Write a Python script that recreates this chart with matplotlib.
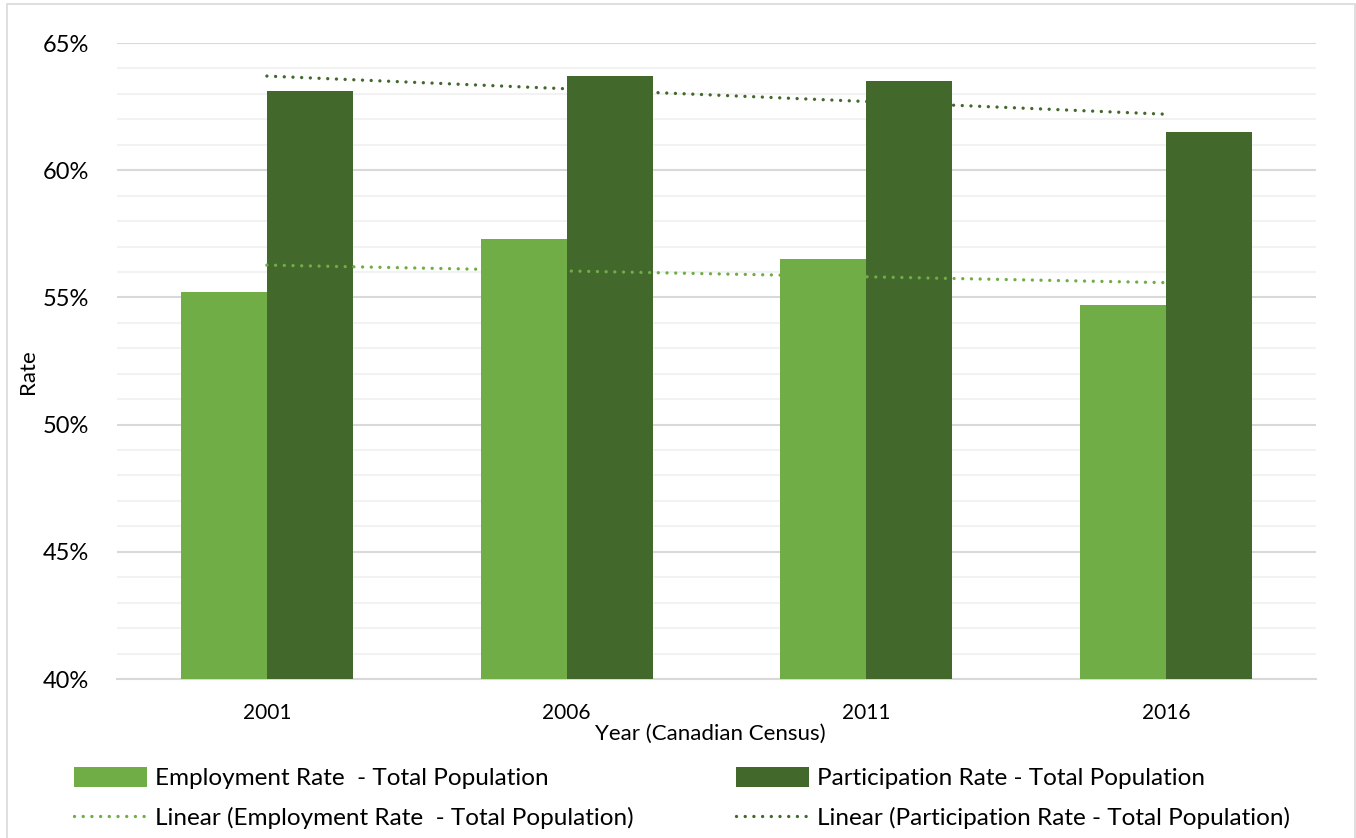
import matplotlib.pyplot as plt
import numpy as np
from matplotlib.patches import Rectangle

years = ['2001', '2006', '2011', '2016']
employment = [55.2, 57.3, 56.5, 54.7]
participation = [63.1, 63.7, 63.5, 61.5]

emp_label = 'Employment Rate  - Total Population'
part_label = 'Participation Rate - Total Population'

light_green = '#70AD47'
dark_green = '#43682B'

plt.rcParams['font.family'] = ['Lato', 'DejaVu Sans']

W, H = 1356, 838
fig = plt.figure(figsize=(W / 100, H / 100), dpi=100)

# plot area in pixel terms
left, right, top, bottom = 117, 1316, 43, 679
ax = fig.add_axes([left / W, 1 - bottom / H, (right - left) / W, (bottom - top) / H])

x = np.arange(len(years))
bw = 0.287
ax.bar(x - bw / 2, employment, bw, color=light_green, label=emp_label, zorder=3)
ax.bar(x + bw / 2, participation, bw, color=dark_green, label=part_label, zorder=3)

# linear trendlines over the category positions 1..n
xs = np.arange(1, len(years) + 1)
dots = (0, (0.01, 2.6))
for vals, col, lab in [(employment, light_green, 'Linear (' + emp_label + ')'),
                       (participation, dark_green, 'Linear (' + part_label + ')')]:
    a, b = np.polyfit(xs, vals, 1)
    ax.plot(x, a * xs + b, color=col, lw=2.4, linestyle=dots,
            dash_capstyle='round', label=lab, zorder=4)

ax.set_xlim(-0.5, len(years) - 0.5)
ax.set_ylim(40, 65)
ax.set_yticks(np.arange(40, 66, 5))
ax.set_yticks(np.arange(40, 66, 1), minor=True)
ax.set_yticklabels([f'{v}%' for v in range(40, 66, 5)])
ax.set_xticks(x)
ax.set_xticklabels(years)

ax.grid(axis='y', which='major', color='#D9D9D9', lw=1.5, zorder=0)
ax.grid(axis='y', which='minor', color='#F2F2F2', lw=1.5, zorder=0)
ax.tick_params(axis='both', which='both', length=0)
ax.tick_params(axis='y', labelsize=17, pad=20)
ax.tick_params(axis='x', labelsize=15, pad=17)
for s in ['left', 'right', 'top']:
    ax.spines[s].set_visible(False)
ax.spines['bottom'].set_color('#D9D9D9')
ax.spines['bottom'].set_linewidth(1.5)

ax.set_xlabel('Year (Canadian Census)', fontsize=16, labelpad=0)
ax.xaxis.set_label_coords((710 - left) / (right - left), -(724 - bottom) / (bottom - top))
fig.text(28 / W, 1 - 372 / H, 'Rate', rotation=90, fontsize=16,
         ha='center', va='center')

h, l = ax.get_legend_handles_labels()
order = [2, 0, 3, 1]
fig.legend([h[i] for i in order], [l[i] for i in order], ncol=2,
           loc='center', bbox_to_anchor=(682 / W, 1 - 798 / H),
           frameon=False, fontsize=17.5, handlelength=3.0, handleheight=0.9,
           columnspacing=4.2, labelspacing=0.7, handletextpad=0.35,
           borderpad=0)

# chart outline
fig.add_artist(Rectangle((7 / W, -0.05), (1355 - 7) / W, 1.05 - 4 / H,
                         transform=fig.transFigure, fill=False,
                         edgecolor='#D9D9D9', lw=1.2))

fig.savefig('out.png', dpi=100)
